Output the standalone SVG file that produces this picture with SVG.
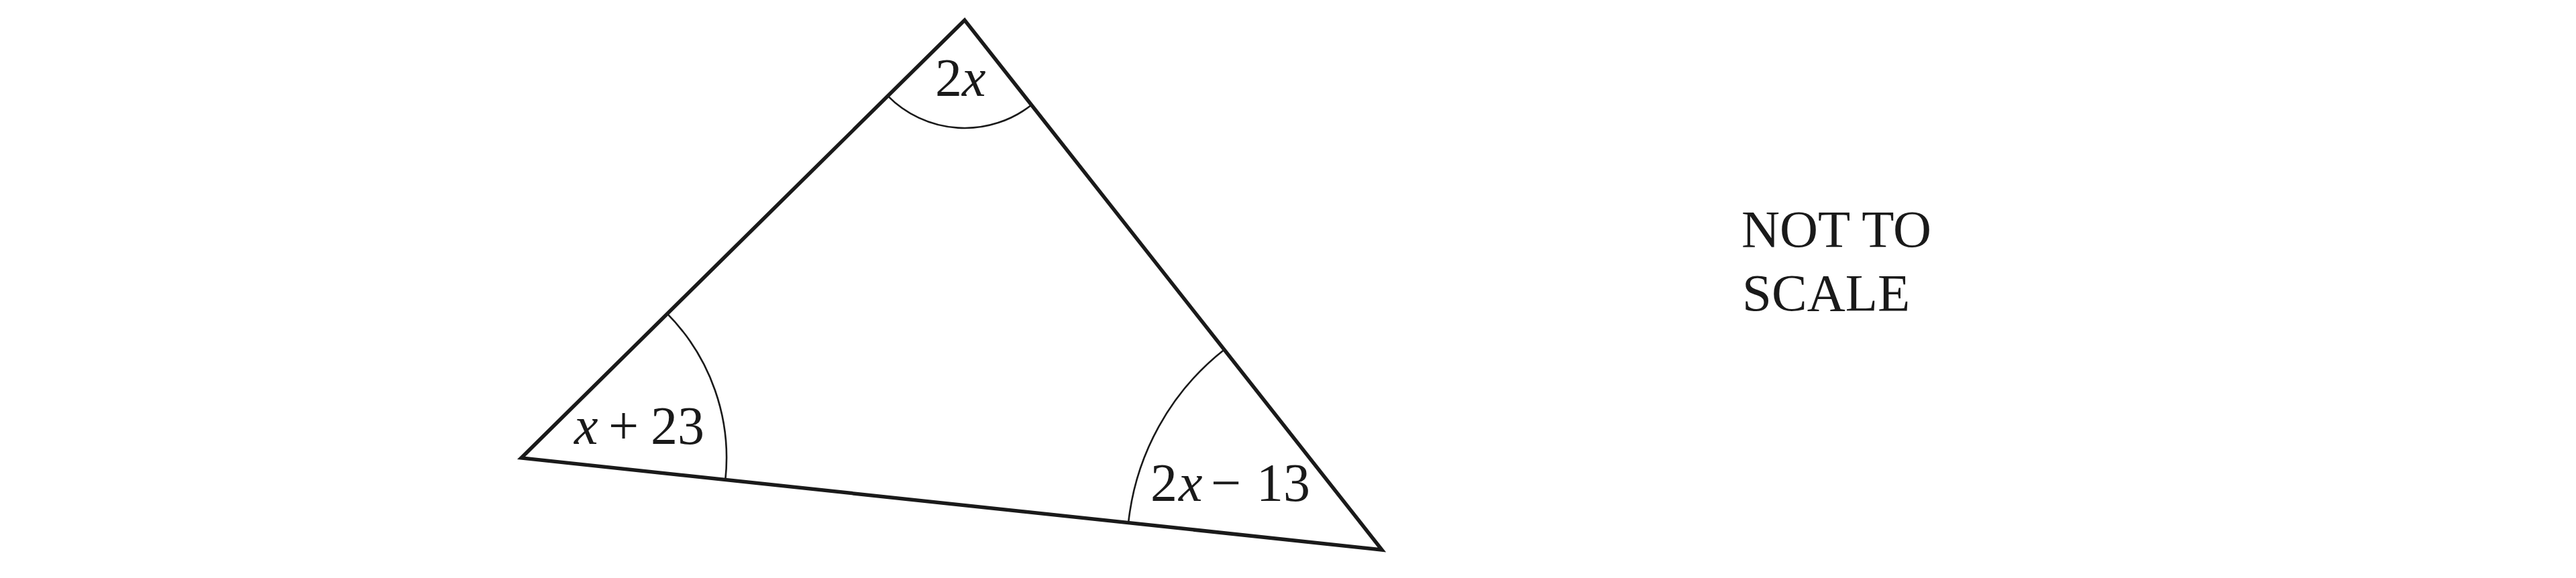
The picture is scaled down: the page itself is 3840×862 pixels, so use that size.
<svg xmlns="http://www.w3.org/2000/svg" width="3840" height="862" viewBox="0 0 3840 862">
<style>
.edge{fill:none;stroke:#1a1a1a;stroke-width:5.5;stroke-linejoin:miter}
.arc{fill:none;stroke:#1a1a1a;stroke-width:2.6}
.lbl{font-family:"Liberation Serif","Times New Roman",serif;font-size:80px;fill:#1a1a1a}
.it{font-style:italic}
.note{font-family:"Liberation Serif","Times New Roman",serif;font-size:79px;fill:#1a1a1a}
</style>
<rect width="3840" height="862" fill="#ffffff"/>
<g id="connectors">
<polygon class="edge" points="1438,30 777,683 2060,820"/>
</g>
<g id="angle-top">
<path class="arc" d="M1323.5,143.1 A161,161 0 0 0 1537.6,156.5"/>
<text class="lbl" y="143"><tspan x="1394">2</tspan><tspan class="it" x="1434">x</tspan></text>
</g>
<g id="angle-left">
<path class="arc" d="M994.7,467.9 A306,306 0 0 1 1081.3,715.5"/>
<text class="lbl" y="662"><tspan class="it" x="856">x</tspan><tspan x="907">+</tspan><tspan x="970">23</tspan></text>
</g>
<g id="angle-right">
<path class="arc" d="M1824.9,521.4 A380,380 0 0 0 1682.1,779.6"/>
<text class="lbl" y="747"><tspan x="1715">2</tspan><tspan class="it" x="1757">x</tspan><tspan x="1805">−</tspan><tspan x="1873">13</tspan></text>
</g>
<g id="note">
<text class="note" x="2596" y="368">NOT TO</text>
<text class="note" x="2597" y="463">SCALE</text>
</g>
</svg>
